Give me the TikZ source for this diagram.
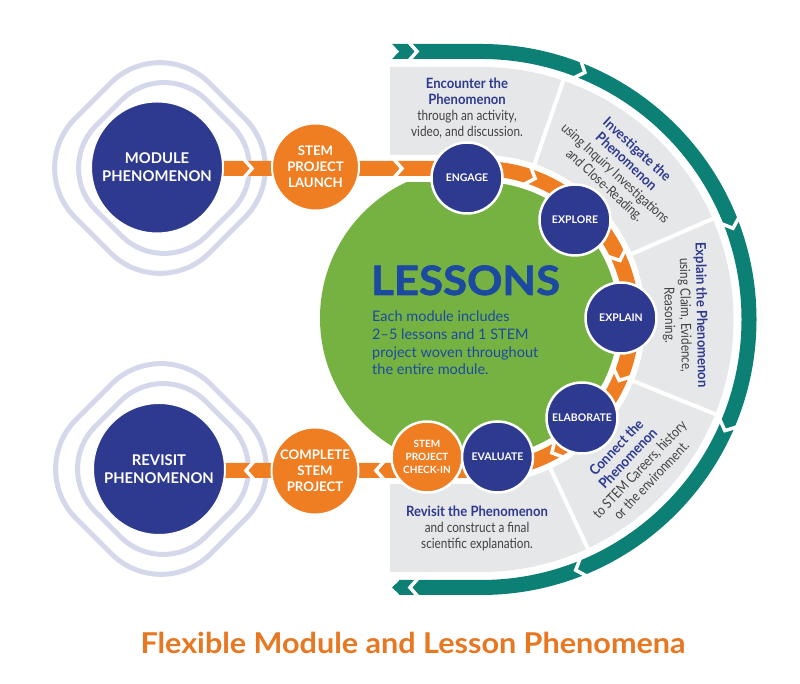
\documentclass[tikz,border=0pt]{standalone}
\usepackage{fontspec}
\setmainfont{Lato}
\newfontfamily\hfont[FakeStretch=0.92]{Lato}
\newfontfamily\bfont[FakeStretch=0.84]{Lato}
\newfontfamily\heavyfont[FakeBold=1.5,FakeStretch=1.08]{Lato}
\newfontfamily\titlefont[FakeStretch=1.065]{Lato}
\usetikzlibrary{calc}
\definecolor{nblue}{RGB}{46,58,143}
\definecolor{lblue}{RGB}{28,74,160}
\definecolor{org}{RGB}{239,125,33}
\definecolor{grn}{RGB}{118,178,66}
\definecolor{tealc}{RGB}{12,128,116}
\definecolor{segray}{RGB}{230,231,232}
\definecolor{txtgray}{RGB}{65,64,66}
\definecolor{ringc}{RGB}{213,216,235}
\definecolor{titleorg}{RGB}{232,119,34}
\newcommand{\hb}[1]{{\hfont\bfseries\fontsize{14.2}{16}\selectfont\color{nblue}#1}}
\newcommand{\chevat}[3]{\begin{scope}[shift={#1},rotate=#2]\draw[#3] (-8.8,-10) -- (0,0) -- (-8.8,10);\end{scope}}
\tikzset{
  ringline/.style={draw=ringc, line width=5pt},
  chevw/.style={draw=white, line width=3.5pt, miter limit=10},
  bigc/.style={circle, fill=nblue, draw=white, line width=2pt, minimum size=132pt, inner sep=0pt, text=white, align=center, font=\bfseries\fontsize{14.8}{18}\selectfont},
  midc/.style={circle, fill=org, draw=white, line width=2pt, minimum size=87pt, inner sep=0pt, text=white, align=center, font=\bfseries\fontsize{13.2}{16}\selectfont},
  smallc/.style={circle, fill=nblue, draw=white, line width=2.5pt, minimum size=71pt, inner sep=0pt, text=white, align=center, font=\bfseries\fontsize{10.5}{13.2}\selectfont},
  segtext/.style={align=center, inner sep=0pt, text=txtgray, font=\bfont\fontsize{14}{16}\selectfont},
  bodyline/.style={anchor=base west, inner sep=0pt, text=lblue, font=\fontsize{14.5}{17}\selectfont}
}
\begin{document}
\begin{tikzpicture}[x=1pt,y=1pt]
\useasboundingbox (0,0) rectangle (800,684);
\fill[white] (0,0) rectangle (800,684);
\coordinate (C) at (481,364.5);
% lavender rings
\draw[ringline, rotate around={45:(160,516)}, rounded corners=70pt] (65,421) rectangle (255,611);
\draw[ringline, rotate around={45:(164,516)}, rounded corners=60pt] (86,438) rectangle (242,594);
\draw[ringline, rotate around={45:(161,215)}, rounded corners=70pt] (66,120) rectangle (256,310);
\draw[ringline, rotate around={45:(163,215)}, rounded corners=60pt] (85,137) rectangle (241,293);
% gray segments
\fill[segray] (390,617) -- (481,617) arc[start angle=90, end angle=-90, radius=252.5] -- (390,112) -- cycle;
\foreach \a in {71,23.5,-22,-65} \draw[white, line width=4pt] ($(C)+(\a:150)$) -- ($(C)+(\a:258)$);
\fill[white] (C) circle[radius=151];
\fill[white] (385,213.5) rectangle (481,515.5);
% teal arc
\draw[tealc, line width=15pt] (392,632.5) -- (481,632.5) arc[start angle=90, end angle=-90, radius=268] -- (399,96.5);
\fill[tealc] (400,89) -- (392,96.5) -- (400,104) -- cycle;
\fill[white] (391,624) -- (399,632.5) -- (391,641) -- cycle;
\chevat{(417,632.5)}{0}{chevw}
\foreach \a in {67.2,19.9,-24.5,-69.3} {\chevat{($(C)+(\a:268)$)}{\a-90}{chevw}}
\chevat{(410,96.5)}{180}{chevw}
% green disc
\fill[grn] (470,366) circle[radius=150];
% orange band
\draw[white, line width=27pt] (358,515.5) -- (481,515.5) arc[start angle=90, end angle=-90, radius=151] -- (358,213.5);
\draw[org, line width=15pt] (157,515.5) -- (481,515.5) arc[start angle=90, end angle=-90, radius=151] -- (159,213.5);
\chevat{(252,515.5)}{0}{chevw}
\chevat{(402,515.5)}{0}{chevw}
\foreach \a in {69,23,-23.8,-62} {\chevat{($(C)+(\a:151)$)}{\a-90}{chevw}}
\chevat{(376,213.5)}{180}{chevw}
\chevat{(246,213.5)}{180}{chevw}
% circles
\node[bigc] (mod) at (157,516.5) {MODULE\\PHENOMENON};
\node[bigc] (rev) at (159,215) {REVISIT\\PHENOMENON};
\node[midc] (launch) at (315.5,517) {STEM\\PROJECT\\LAUNCH};
\node[midc] (complete) at (315,213) {COMPLETE\\STEM\\PROJECT};
\node[smallc] (engage) at (467,506) {ENGAGE};
\node[smallc] (explore) at (575,464) {EXPLORE};
\node[smallc] (explain) at (621,366) {EXPLAIN};
\node[smallc] (elab) at (582,266) {ELABORATE};
\node[smallc, fill=org, font=\bfseries\fontsize{10}{13.2}\selectfont] (checkin) at (427,227) {STEM\\PROJECT\\CHECK-IN};
\node[smallc] (evaluate) at (497.5,227) {EVALUATE};
% lessons
\node[anchor=base west, inner sep=0pt, text=lblue, font=\heavyfont\bfseries\fontsize{40.5}{40}\selectfont] (lessons) at (371,389) {LESSONS};
\node[bodyline] (b1) at (372,362.3) {Each module includes};
\node[bodyline] (b2) at (372,344.6) {2--5 lessons and 1 STEM};
\node[bodyline] (b3) at (372,326.9) {project woven throughout};
\node[bodyline] (b4) at (372,309.2) {the entire module.};
% segment texts
\node[segtext] (s1) at (467,575.5) {\hb{Encounter the}\\\hb{Phenomenon}\\through an activity,\\video, and discussion.};
\node[segtext, rotate=-42.6] (s2) at ($(C)+(47.4:206)$) {\hb{Investigate the}\\\hb{Phenomenon}\\using Inquiry Investigations\\and Close-Reading.};
\node[segtext, rotate=-89] (s3) at ($(C)+(1.2:204)$) {\hb{Explain the Phenomenon}\\using Claim, Evidence,\\Reasoning.};
\node[segtext, rotate=46.6] (s4) at ($(C)+(-43.4:210)$) {\hb{Connect the}\\\hb{Phenomenon}\\to STEM Careers, history\\or the environment.};
\node[segtext] (s5) at (477,155.4) {\hb{Revisit the Phenomenon}\\and construct a final\\scientific explanation.};
% title
\node[anchor=base, inner sep=0pt, text=titleorg, font=\titlefont\bfseries\fontsize{28.7}{30}\selectfont] (title) at (413,30.7) {Flexible Module and Lesson Phenomena};
\end{tikzpicture}
\end{document}
